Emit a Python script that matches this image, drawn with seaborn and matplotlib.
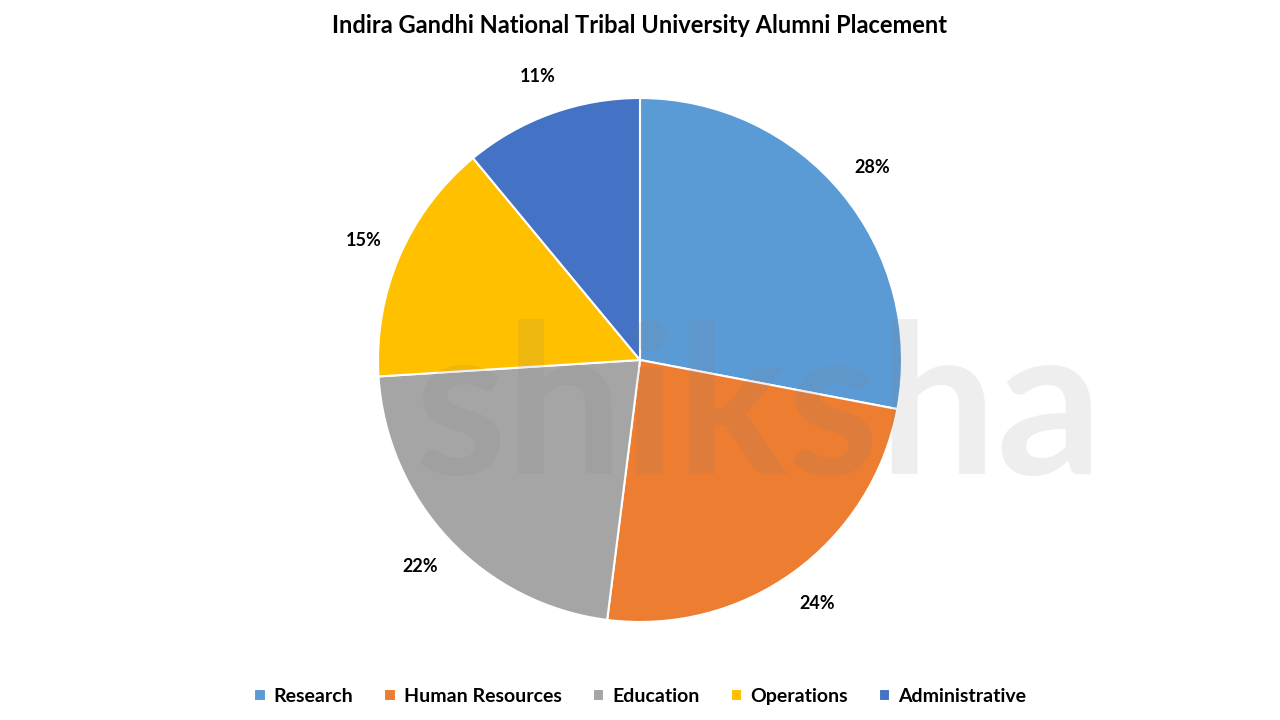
import matplotlib
matplotlib.use("Agg")
import matplotlib.pyplot as plt
import seaborn as sns

# chart data
categories = ["Research", "Human Resources", "Education", "Operations", "Administrative"]
shares = [28, 24, 22, 15, 11]
colors = ["#5B9BD5", "#ED7D31", "#A5A5A5", "#FFC000", "#4472C4"]

sns.set_theme(style="white")
plt.rcParams['font.family'] = ['Lato', 'DejaVu Sans']
plt.rcParams['text.color'] = 'black'

fig = plt.figure(figsize=(12.8, 7.2), dpi=100)
fig.patch.set_facecolor("white")

# pie axes: centre ~ (640, 360) px, radius ~ 262 px
ax = fig.add_axes([378 / 1280, 98 / 720, 524 / 1280, 524 / 720])
wedges, texts, autotexts = ax.pie(
    shares,
    colors=colors,
    startangle=90,
    counterclock=False,
    autopct="%d%%",
    pctdistance=1.15,
    wedgeprops=dict(edgecolor="white", linewidth=1.5),
    textprops=dict(fontsize=13, fontweight="bold", color="black"),
)
ax.set_xlim(-1, 1)
ax.set_ylim(-1, 1)
ax.set_aspect("equal")

# faint watermark
fig.text(0.593, 0.425, "shiksha", fontsize=150, fontweight="bold",
         color="#808080", alpha=0.13, ha="center", va="center", zorder=10)

fig.suptitle("Indira Gandhi National Tribal University Alumni Placement",
             x=0.5, y=0.964, va="center", fontsize=17, fontweight="bold",
             color="black")

leg = fig.legend(wedges, categories, loc="lower center", bbox_to_anchor=(0.5, -0.003),
                 ncol=5, frameon=False, prop=dict(weight="bold", size=14),
                 handlelength=0.6, handleheight=0.6, handletextpad=0.4,
                 columnspacing=1.6)
for t in leg.get_texts():
    t.set_color("black")

fig.savefig("out.png", dpi=100, facecolor="white")
